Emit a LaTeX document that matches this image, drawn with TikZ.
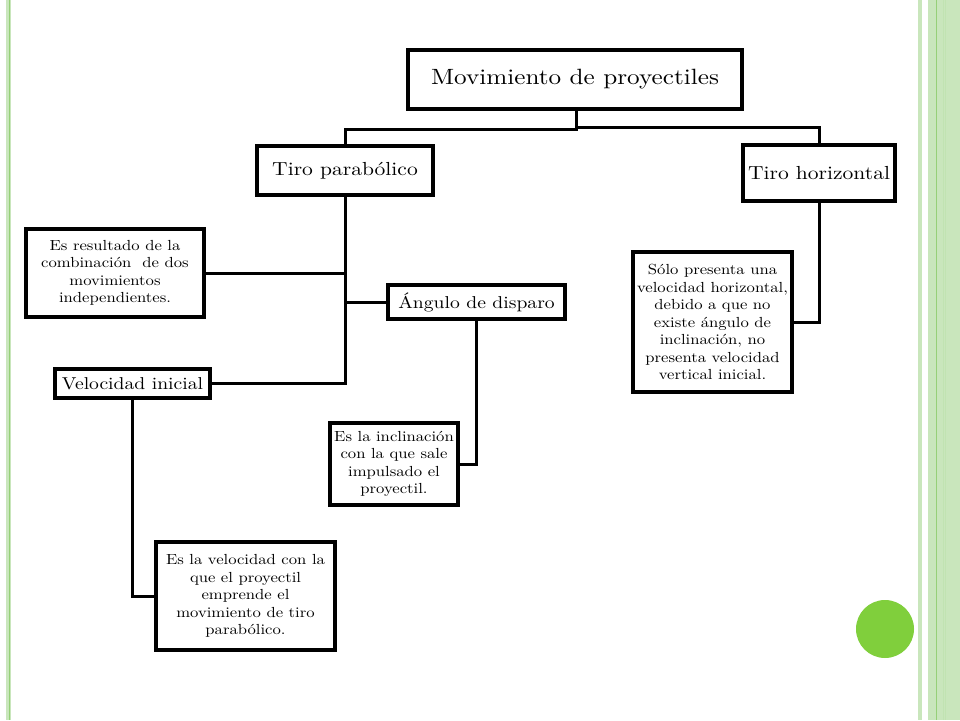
\documentclass[tikz,border=0pt]{standalone}
\usepackage{fontspec}
\setmainfont{lmroman10-regular}[Extension=.otf, BoldFont=lmroman10-bold, FakeStretch=1.14]
\definecolor{palegreen}{RGB}{201,230,188}
\definecolor{midgreen}{RGB}{150,208,120}
\definecolor{dotgreen}{RGB}{128,207,60}
\begin{document}
\begin{tikzpicture}[x=1pt,y=-1pt,
  box/.style={draw=black, line width=3.3pt, fill=white, align=center, inner sep=1pt},
  small/.style={font=\fontsize{14.6}{17.5}\selectfont},
  conn/.style={draw=black, line width=3pt}]
\useasboundingbox (0,0) rectangle (960,720);
\fill[white] (0,0) rectangle (960,720);
% decorative borders
\fill[palegreen] (6,0) rectangle (11,720);
\draw[midgreen, line width=0.8pt] (9.5,0) -- (9.5,720);
\fill[palegreen] (918,0) rectangle (922,720);
\fill[palegreen] (928,0) rectangle (960,720);
\draw[midgreen, line width=0.8pt] (936,0) -- (936,720);
\draw[palegreen!85!midgreen, line width=0.6pt] (943,0) -- (943,720);
\draw[palegreen!85!midgreen, line width=0.6pt] (945,0) -- (945,720);
\fill[dotgreen] (885,629) circle (29);
% nodes
\node[box, minimum width=334, minimum height=59, font=\fontsize{22.1}{26}\selectfont] (top) at (575,79.5) {Movimiento de proyectiles};
\node[box, minimum width=176, minimum height=49, font=\fontsize{18.9}{22}\selectfont] (tp) at (345,170.5) {Tiro parabólico};
\node[box, minimum width=152, minimum height=56, font=\fontsize{18.9}{22}\selectfont] (th) at (819,173) {Tiro horizontal};
\node[box, small, minimum width=178, minimum height=88] (res) at (115,273) {Es resultado de la\\combinación\ \ de dos\\movimientos\\independientes.};
\node[box, minimum width=177, minimum height=34, font=\fontsize{17.2}{20}\selectfont] (ang) at (476.5,302) {Ángulo de disparo};
\node[box, minimum width=155, minimum height=29, font=\fontsize{17.2}{20}\selectfont] (vel) at (132.5,383.5) {Velocidad inicial};
\node[box, small, minimum width=128, minimum height=82] (incl) at (394,464) {Es la inclinación\\con la que sale\\impulsado el\\proyectil.};
\node[box, small, minimum width=179, minimum height=108] (velt) at (245.5,596) {Es la velocidad con la\\que el proyectil\\emprende el\\movimiento de tiro\\parabólico.};
\node[box, small, minimum width=159, minimum height=140] (solo) at (712.5,322) {Sólo presenta una\\velocidad horizontal,\\debido a que no\\existe ángulo de\\inclinación, no\\presenta velocidad\\vertical inicial.};
% connectors
\coordinate (stem) at (576,129);
\coordinate (stemr) at (576,127);
\draw[conn] (top.south -| stem) -- (stem) -| (tp.north);
\draw[conn] (stemr) -| (th.north);
\draw[conn] (tp.south) |- (vel.east);
\draw[conn] (res.east) -- (res.east -| tp.south);
\draw[conn] (ang.west) -- (ang.west -| tp.south);
\draw[conn] (ang.south) |- (incl.east);
\draw[conn] (vel.south) |- (velt.west);
\draw[conn] (th.south) |- (solo.east);
\end{tikzpicture}
\end{document}
